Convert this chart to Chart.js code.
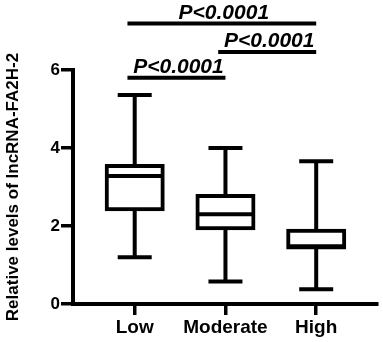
<!DOCTYPE html>
<html>
<head>
<meta charset="utf-8">
<script src="https://cdn.jsdelivr.net/npm/chart.js@4.4.1/dist/chart.umd.min.js"></script>
<style>
  html, body { margin: 0; padding: 0; background: #fff; }
</style>
</head>
<body>
<canvas id="Grafico" width="383" height="342"></canvas>
<script>
// Grupos e estatísticas do boxplot
const grupos = ['Low', 'Moderate', 'High'];
const minimos = [1.2, 0.58, 0.38];
const q1 = [2.43, 1.94, 1.45];
const medianas = [3.28, 2.30, 1.48];
const q3 = [3.54, 2.77, 1.88];
const maximos = [5.36, 4.0, 3.66];

const yTicks = [0, 2, 4, 6];

// Comparações: índice do grupo A, índice do grupo B, altura da barra, texto
const compA = [0, 1, 0];
const compB = [1, 2, 2];
const compAltura = [5.8, 6.46, 7.19];
const compTexto = ['P<0.0001', 'P<0.0001', 'P<0.0001'];

const FONTE = "'Liberation Sans', Arial, sans-serif";

// Plugin para desenhar bigodes, medianas e barras de significância
const boxPlugin = {
    id: 'boxplot',
    beforeDatasetsDraw(chart) {
        const { ctx, scales: { x, y } } = chart;
        ctx.save();
        ctx.strokeStyle = '#000';
        ctx.lineWidth = 4;
        grupos.forEach((g, i) => {
            const cx = x.getPixelForValue(i + 1);
            const half = 17;
            // bigodes
            ctx.beginPath();
            ctx.moveTo(cx, y.getPixelForValue(maximos[i]));
            ctx.lineTo(cx, y.getPixelForValue(q3[i]));
            ctx.moveTo(cx, y.getPixelForValue(q1[i]));
            ctx.lineTo(cx, y.getPixelForValue(minimos[i]));
            // tampas
            ctx.moveTo(cx - half, y.getPixelForValue(maximos[i]));
            ctx.lineTo(cx + half, y.getPixelForValue(maximos[i]));
            ctx.moveTo(cx - half, y.getPixelForValue(minimos[i]));
            ctx.lineTo(cx + half, y.getPixelForValue(minimos[i]));
            ctx.stroke();
        });
        ctx.restore();
    },
    afterDatasetsDraw(chart) {
        const { ctx, scales: { x, y } } = chart;
        ctx.save();
        ctx.strokeStyle = '#000';
        ctx.fillStyle = '#000';
        ctx.lineWidth = 4;
        // medianas
        grupos.forEach((g, i) => {
            const cx = x.getPixelForValue(i + 1);
            const my = y.getPixelForValue(medianas[i]);
            ctx.beginPath();
            ctx.moveTo(cx - 28, my);
            ctx.lineTo(cx + 28, my);
            ctx.stroke();
        });
        // barras de significância
        ctx.font = 'italic bold 21px ' + FONTE;
        ctx.textAlign = 'center';
        ctx.textBaseline = 'alphabetic';
        compA.forEach((a, k) => {
            const x1 = x.getPixelForValue(a + 1 - 0.08);
            const x2 = x.getPixelForValue(compB[k] + 1);
            const ly = y.getPixelForValue(compAltura[k]);
            ctx.beginPath();
            ctx.moveTo(x1, ly);
            ctx.lineTo(x2, ly);
            ctx.stroke();
            ctx.fillText(compTexto[k], (x1 + x2) / 2 + 2, ly - 5);
        });
        ctx.restore();
    }
};

const ctx = document.getElementById('Grafico').getContext('2d');

new Chart(ctx, {
    type: 'bar',
    data: {
        datasets: [{
            data: grupos.map((g, i) => ({ x: i + 1, y: [q1[i], q3[i]] })),
            backgroundColor: '#fff',
            borderColor: '#000',
            borderWidth: 4,
            borderSkipped: false,
            barThickness: 56,
            inflateAmount: 2
        }]
    },
    options: {
        responsive: false,
        animation: false,
        layout: { padding: { top: 70, right: 6, left: 0, bottom: 0 } },
        plugins: { legend: { display: false }, tooltip: { enabled: false } },
        scales: {
            x: {
                type: 'linear',
                min: 0.32,
                max: 3.67,
                offset: false,
                afterBuildTicks: (scale) => { scale.ticks = grupos.map((g, i) => ({ value: i + 1 })); },
                afterFit: (scale) => { scale.height = 38; },
                grid: { drawOnChartArea: false, offset: false, tickLength: 11, lineWidth: 3.5, color: '#000' },
                border: { display: true, width: 4, color: '#000' },
                ticks: {
                    padding: 1,
                    color: '#000',
                    font: { family: FONTE, size: 19, weight: 'bold' },
                    callback: (v) => grupos[v - 1]
                }
            },
            y: {
                min: 0,
                max: 6,
                afterBuildTicks: (scale) => { scale.ticks = yTicks.map(v => ({ value: v })); },
                afterFit: (scale) => { scale.width = 73; },
                grid: { drawOnChartArea: false, tickLength: 12, lineWidth: 3.5, color: '#000' },
                border: { display: true, width: 4, color: '#000' },
                ticks: {
                    padding: 1,
                    color: '#000',
                    font: { family: FONTE, size: 17, weight: 'bold' }
                },
                title: {
                    display: true,
                    text: 'Relative levels of lncRNA-FA2H-2',
                    color: '#000',
                    padding: { top: 3, bottom: 0 },
                    font: { family: FONTE, size: 17, weight: 'bold' }
                }
            }
        }
    },
    plugins: [boxPlugin]
});
</script>
</body>
</html>
